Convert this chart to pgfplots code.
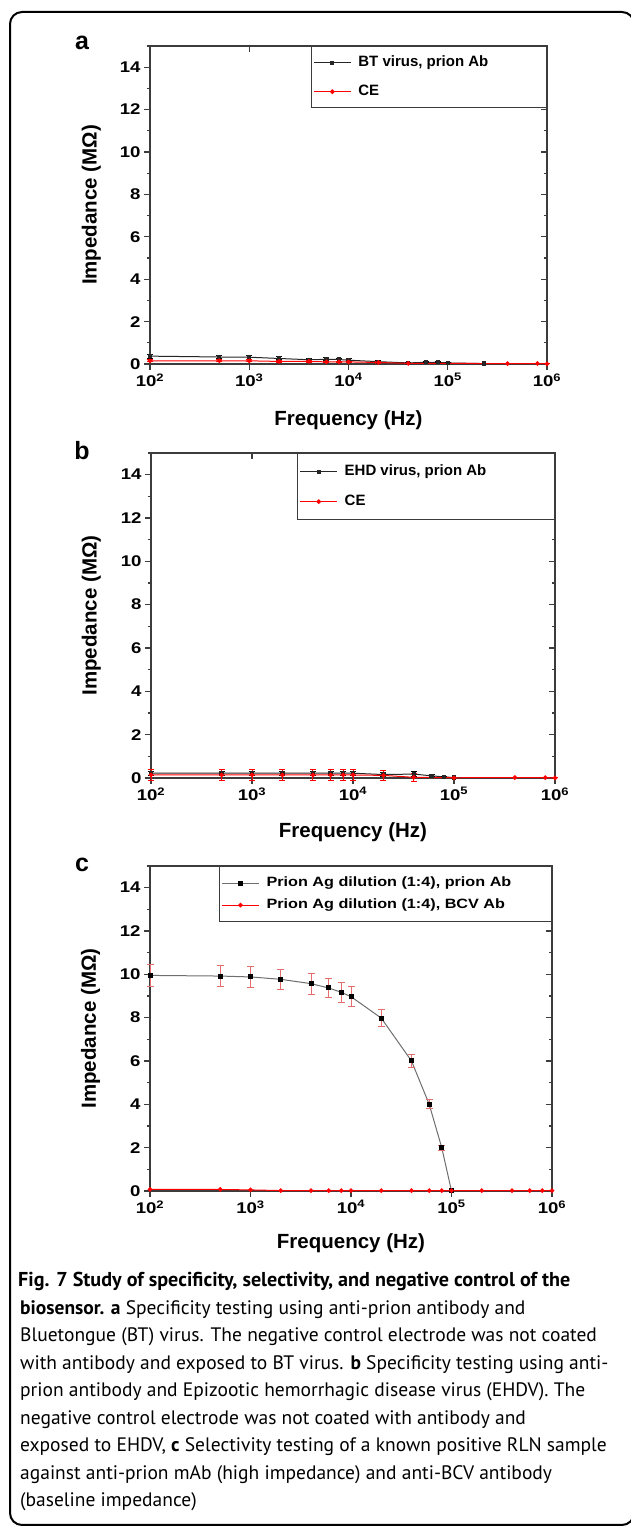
\documentclass[border=0pt]{standalone}
\usepackage{fontspec}
\setmainfont{Liberation Sans}
\newfontfamily\widefont[FakeStretch=1.2]{Liberation Sans}
\newfontfamily\capfont{PT Sans}
\usepackage{pgfplots}
\pgfplotsset{compat=1.18}
\pgfkeys{/pgf/number format/assume math mode=true}
\definecolor{axgray}{RGB}{60,60,60}
\definecolor{ebred}{RGB}{228,110,110}
\definecolor{lgray}{RGB}{110,110,110}
\newcommand{\labfont}{\bfseries\fontsize{20.5pt}{24pt}\selectfont}

\pgfplotsset{
  mypanel/.style={
    scale only axis, xmin=100, xmax=1e6, ymin=0, ymax=15,
    clip=false,
    xtick={1e2,1e3,1e4,1e5,1e6},
    ytick={0,2,...,14}, minor ytick={1,3,...,15},
    xminorticks=false,
    axis line style={draw=axgray, line width=1.3pt},
    every tick/.style={draw=axgray, line width=1.1pt},
    major tick length=6pt, minor tick length=3.5pt,
    tick label style={font=\widefont\bfseries\fontsize{15.5pt}{18pt}\selectfont},
  },
  mymain/.style={
    xtick pos=left, ytick pos=left, tick align=outside,
    xticklabels={10\textsuperscript{2},10\textsuperscript{3},10\textsuperscript{4},10\textsuperscript{5},10\textsuperscript{6}},
    xlabel={Frequency (Hz)}, ylabel={Impedance (MΩ)},
    every axis y label/.style={at={(axis description cs:-0.148,0.5)}, anchor=center, rotate=90, font=\labfont},
    legend cell align=left,
    legend image code/.code={\draw[mark repeat=2,mark phase=2,##1] plot coordinates {(0pt,0pt) (18.5pt,0pt) (37pt,0pt)};},
    legend style={at={(1,1)}, anchor=north east, draw=axgray, line width=1.3pt,
      inner xsep=2pt, nodes={inner sep=0pt, text height=11pt, text depth=3pt},
      /tikz/every odd column/.append style={column sep=7pt}},
  },
  myover/.style={
    xtick pos=right, ytick pos=right, tick align=inside,
    xticklabels={}, yticklabels={},
  },
}

\begin{document}
\begin{tikzpicture}
\path[use as bounding box] (0pt,0pt) rectangle (630pt,1527pt);
\draw[line width=2pt, rounded corners=12pt] (10pt,2pt) rectangle (634pt,1515pt);

% panel letters
\node[anchor=base, inner sep=0pt, font=\bfseries\fontsize{25pt}{30pt}\selectfont] at (82pt,1477pt) {a};
\node[anchor=base, inner sep=0pt, font=\bfseries\fontsize{25pt}{30pt}\selectfont] at (82pt,1067pt) {b};
\node[anchor=base, inner sep=0pt, font=\bfseries\fontsize{25pt}{30pt}\selectfont] at (82pt,655pt) {c};

% ---------------- panel a ----------------
\begin{axis}[xmode=log, mypanel, myover, at={(150pt,1163pt)}, anchor=south west, width=397pt, height=318pt]
\addplot[draw=none] coordinates {(100,0)};
\end{axis}
\begin{axis}[xmode=log, mypanel, mymain, at={(150pt,1163pt)}, anchor=south west, width=397pt, height=318pt,
  every axis x label/.style={at={(axis description cs:0.5,0)}, anchor=center, yshift=-56pt, font=\labfont},
  legend style={inner ysep=9pt, row sep=15pt, font=\bfseries\fontsize{15pt}{18pt}\selectfont}]
\addplot[color=black!85, line width=1pt, mark=square*, mark size=1.6pt,
  error bars/.cd, y dir=both, y explicit, error bar style={line width=1pt, black}, error mark options={rotate=90, mark size=3pt, line width=1pt, black}]
  coordinates {
  (100,0.37) +- (0,0.10)
  (500,0.33) +- (0,0.08)
  (1000,0.32) +- (0,0.10)
  (2000,0.26) +- (0,0.07)
  (4000,0.20) +- (0,0.06)
  (6000,0.22) +- (0,0.07)
  (8000,0.21) +- (0,0.07)
  (10000,0.18) +- (0,0.06)
  (20000,0.11) +- (0,0.04)
  (40000,0.05) +- (0,0.02)
  (60000,0.08) +- (0,0.03)
  (80000,0.08) +- (0,0.03)
  (100000,0.05) +- (0,0.02)
  (230000,0.02) +- (0,0.0)
  };
\addlegendentry{BT virus, prion Ab\hspace*{56pt}}
\addplot[color=red, line width=1pt, mark=*, mark size=1.8pt,
  error bars/.cd, y dir=both, y explicit, error bar style={line width=1pt, red}, error mark options={rotate=90, mark size=3pt, line width=1pt, red}]
  coordinates {
  (100,0.15) +- (0,0.05)
  (500,0.15) +- (0,0.05)
  (1000,0.15) +- (0,0.05)
  (2000,0.12) +- (0,0.04)
  (4000,0.12) +- (0,0.04)
  (6000,0.10) +- (0,0.04)
  (8000,0.10) +- (0,0.04)
  (10000,0.10) +- (0,0.04)
  (20000,0.07) +- (0,0.03)
  (40000,0.03) +- (0,0.0)
  (400000,0.02) +- (0,0.0)
  (800000,0.02) +- (0,0.0)
  (1000000,0.01) +- (0,0.0)
  };
\addlegendentry{CE}
\end{axis}

% ---------------- panel b ----------------
\begin{axis}[xmode=log, mypanel, myover, at={(151pt,749pt)}, anchor=south west, width=404pt, height=325pt]
\addplot[draw=none] coordinates {(100,0)};
\end{axis}
\begin{axis}[xmode=log, mypanel, mymain, at={(151pt,749pt)}, anchor=south west, width=404pt, height=325pt,
  every axis x label/.style={at={(axis description cs:0.5,0)}, anchor=center, yshift=-54pt, font=\labfont},
  legend style={inner ysep=11pt, row sep=16pt, font=\bfseries\fontsize{15pt}{18pt}\selectfont}]
\addplot[color=black!85, line width=1pt, mark=square*, mark size=1.6pt,
  error bars/.cd, y dir=both, y explicit, error bar style={line width=1pt, black}, error mark options={rotate=90, mark size=3pt, line width=1pt, black}]
  coordinates {
  (100,0.22) +- (0,0.10)
  (500,0.22) +- (0,0.10)
  (1000,0.22) +- (0,0.10)
  (2000,0.22) +- (0,0.10)
  (4000,0.22) +- (0,0.10)
  (6000,0.22) +- (0,0.10)
  (8000,0.22) +- (0,0.10)
  (10000,0.22) +- (0,0.10)
  (20000,0.16) +- (0,0.08)
  (40000,0.18) +- (0,0.10)
  (60000,0.10) +- (0,0.04)
  (80000,0.05) +- (0,0.02)
  (100000,0.02) +- (0,0.0)
  };
\addlegendentry{EHD virus, prion Ab\hspace*{66pt}}
\addplot[color=red, line width=1pt, mark=*, mark size=1.8pt,
  error bars/.cd, y dir=both, y explicit, error bar style={line width=1pt, red}, error mark options={rotate=90, mark size=3pt, line width=1pt, red}]
  coordinates {
  (100,0.14) +- (0,0.26)
  (500,0.14) +- (0,0.26)
  (1000,0.14) +- (0,0.26)
  (2000,0.14) +- (0,0.24)
  (4000,0.14) +- (0,0.24)
  (6000,0.14) +- (0,0.24)
  (8000,0.14) +- (0,0.24)
  (10000,0.14) +- (0,0.24)
  (20000,0.12) +- (0,0.22)
  (40000,0.03) +- (0,0.20)
  (100000,0.01) +- (0,0.0)
  (400000,0.02) +- (0,0.0)
  (800000,0.02) +- (0,0.0)
  (1000000,0.0) +- (0,0.0)
  };
\addlegendentry{CE}
\end{axis}

% ---------------- panel c ----------------
\begin{axis}[xmode=log, mypanel, myover, at={(150pt,336pt)}, anchor=south west, width=402pt, height=325pt]
\addplot[draw=none] coordinates {(100,0)};
\end{axis}
\begin{axis}[xmode=log, mypanel, mymain, at={(150pt,336pt)}, anchor=south west, width=402pt, height=325pt,
  every axis x label/.style={at={(axis description cs:0.5,0)}, anchor=center, yshift=-52pt, font=\labfont},
  legend style={inner ysep=10pt, row sep=9pt, nodes={text height=10pt, text depth=3pt},
    font=\widefont\bfseries\fontsize{13.5pt}{16pt}\selectfont}]
\addplot[color=lgray, line width=1pt, mark=square*, mark size=2pt, mark options={fill=black, draw=black},
  error bars/.cd, y dir=both, y explicit, error bar style={line width=1pt, ebred}, error mark options={rotate=90, mark size=3.5pt, line width=1pt, ebred}]
  coordinates {
  (100,9.95) +- (0,0.50)
  (500,9.92) +- (0,0.50)
  (1000,9.88) +- (0,0.48)
  (2000,9.77) +- (0,0.47)
  (4000,9.57) +- (0,0.48)
  (6000,9.37) +- (0,0.45)
  (8000,9.17) +- (0,0.45)
  (10000,8.97) +- (0,0.45)
  (20000,7.98) +- (0,0.40)
  (40000,6.00) +- (0,0.30)
  (60000,4.00) +- (0,0.20)
  (80000,2.00) +- (0,0.12)
  (100000,0.00) +- (0,0.0)
  };
\addlegendentry{Prion Ag dilution (1:4), prion Ab\hspace*{38pt}}
\addplot[color=red, line width=1pt, mark=*, mark size=1.8pt]
  coordinates {
  (100,0.07) (500,0.07) (1000,0.05) (2000,0.02) (4000,0.02) (6000,0.02)
  (8000,0.02) (10000,0.02) (20000,0.02) (40000,0.02) (60000,0.02)
  (80000,0.02) (100000,0.02) (200000,0.02) (400000,0.02) (600000,0.02)
  (800000,0.02) (1000000,0.02)
  };
\addlegendentry{Prion Ag dilution (1:4), BCV Ab}
\end{axis}

% ---------------- caption ----------------
\begin{scope}[every node/.style={anchor=base west, inner sep=0pt, font=\capfont\fontsize{19.5pt}{24pt}\selectfont}]
\node[font=\capfont\fontsize{20.1pt}{24pt}\selectfont] at (18pt,240pt) {\textbf{Fig. 7 Study of specificity, selectivity, and negative control of the}};
\node at (20pt,212.5pt) {\textbf{biosensor. a} Specificity testing using anti-prion antibody and};
\node at (20pt,185pt) {Bluetongue (BT) virus. The negative control electrode was not coated};
\node at (20pt,157.5pt) {with antibody and exposed to BT virus. \textbf{b} Specificity testing using anti-};
\node at (20pt,130pt) {prion antibody and Epizootic hemorrhagic disease virus (EHDV). The};
\node at (20pt,102.5pt) {negative control electrode was not coated with antibody and};
\node at (20pt,75pt) {exposed to EHDV, \textbf{c} Selectivity testing of a known positive RLN sample};
\node at (20pt,47.5pt) {against anti-prion mAb (high impedance) and anti-BCV antibody};
\node at (20pt,20pt) {(baseline impedance)};
\end{scope}
\end{tikzpicture}
\end{document}
